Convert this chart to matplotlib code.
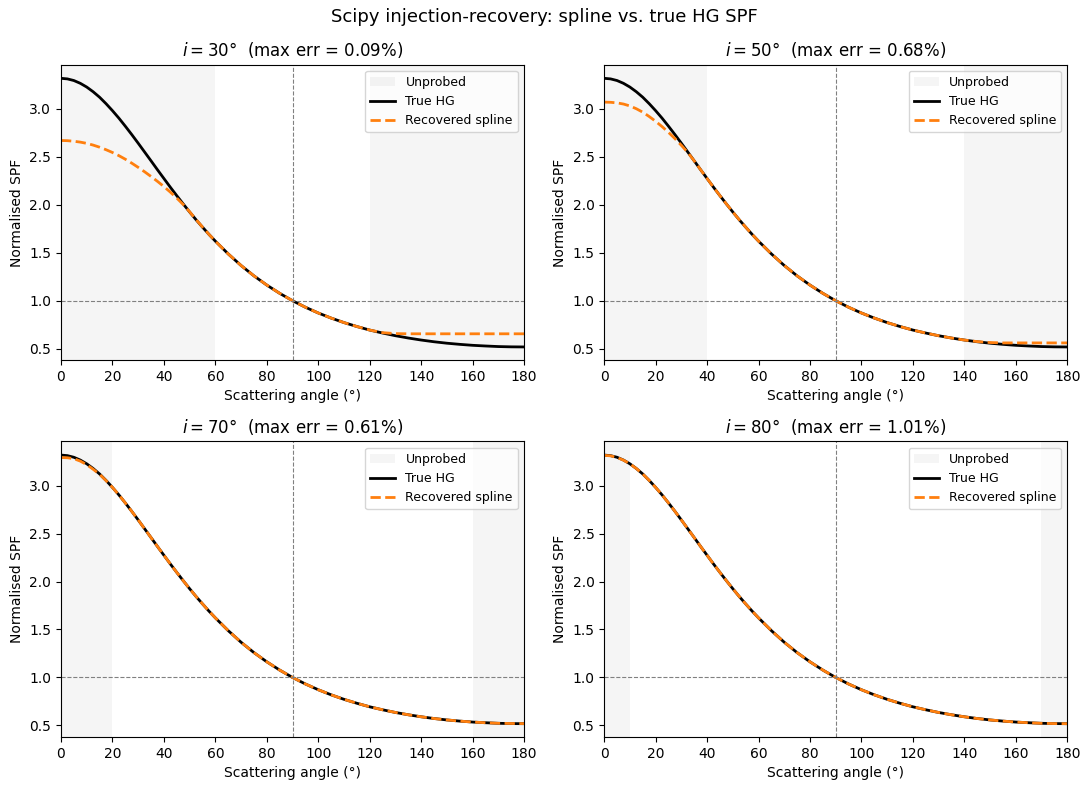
import matplotlib
matplotlib.use("Agg")
import matplotlib.pyplot as plt

angles = [0, 2.5, 5, 7.5, 10, 12.5, 15, 17.5, 20, 22.5, 25, 27.5, 30, 32.5, 35,
          37.5, 40, 42.5, 45, 47.5, 50, 52.5, 55, 57.5, 60,
          65, 70, 75, 80, 85, 90, 95, 100, 105, 110, 115, 120, 125, 130, 135,
          140, 145, 150, 155, 160, 165, 170, 175, 180]

true_hg = [3.318, 3.312, 3.295, 3.266, 3.227, 3.178, 3.121, 3.054, 2.981, 2.903,
           2.819, 2.732, 2.642, 2.550, 2.458, 2.365, 2.274, 2.183, 2.095, 2.009,
           1.925, 1.844, 1.767, 1.692, 1.621,
           1.488, 1.367, 1.259, 1.163, 1.077, 1.000, 0.932, 0.872, 0.819, 0.772,
           0.731, 0.694, 0.663, 0.635, 0.611, 0.590, 0.572, 0.557, 0.545, 0.535,
           0.528, 0.522, 0.519, 0.518]

spline_i30 = [2.670, 2.668, 2.662, 2.653, 2.640, 2.622, 2.600, 2.574, 2.545, 2.512,
              2.475, 2.434, 2.390, 2.344, 2.295, 2.244, 2.190, 2.132, 2.070, 2.003,
              1.927, 1.846, 1.768, 1.692, 1.621,
              1.488, 1.367, 1.259, 1.163, 1.077, 1.000, 0.932, 0.872, 0.819, 0.772,
              0.731, 0.694, 0.667, 0.657, 0.655, 0.655, 0.655, 0.655, 0.655, 0.655,
              0.655, 0.655, 0.655, 0.655]

spline_i50 = [3.070, 3.068, 3.062, 3.050, 3.030, 3.001, 2.965, 2.920, 2.870, 2.815,
              2.755, 2.690, 2.620, 2.545, 2.458, 2.365, 2.274, 2.183, 2.095, 2.009,
              1.925, 1.844, 1.767, 1.692, 1.621,
              1.488, 1.367, 1.259, 1.163, 1.077, 1.000, 0.932, 0.872, 0.819, 0.772,
              0.731, 0.694, 0.663, 0.635, 0.611, 0.590, 0.574, 0.564, 0.560, 0.560,
              0.560, 0.560, 0.560, 0.560]

spline_i70 = [3.292, 3.290, 3.280, 3.255, 3.218, 3.170, 3.118, 3.052, 2.981, 2.903,
              2.819, 2.732, 2.642, 2.550, 2.458, 2.365, 2.274, 2.183, 2.095, 2.009,
              1.925, 1.844, 1.767, 1.692, 1.621,
              1.488, 1.367, 1.259, 1.163, 1.077, 1.000, 0.932, 0.872, 0.819, 0.772,
              0.731, 0.694, 0.663, 0.635, 0.611, 0.590, 0.572, 0.557, 0.545, 0.535,
              0.528, 0.522, 0.520, 0.519]

spline_i80 = [3.315, 3.310, 3.293, 3.265, 3.226, 3.178, 3.121, 3.054, 2.981, 2.903,
              2.819, 2.732, 2.642, 2.550, 2.458, 2.365, 2.274, 2.183, 2.095, 2.009,
              1.925, 1.844, 1.767, 1.692, 1.621,
              1.488, 1.367, 1.259, 1.163, 1.077, 1.000, 0.932, 0.872, 0.819, 0.772,
              0.731, 0.694, 0.663, 0.635, 0.611, 0.590, 0.572, 0.557, 0.545, 0.535,
              0.528, 0.522, 0.519, 0.518]

inclinations = [30, 50, 70, 80]
max_errs = ["0.09", "0.68", "0.61", "1.01"]
splines = [spline_i30, spline_i50, spline_i70, spline_i80]
unprobed_low = [60, 40, 20, 10]
unprobed_high = [120, 140, 160, 170]

fig, axes = plt.subplots(2, 2, figsize=(10.89, 7.89), dpi=100)
fig.subplots_adjust(left=0.056, right=0.980, top=0.918, bottom=0.066,
                    wspace=0.173, hspace=0.275)
for ax, inc, err, spl, lo, hi in zip(axes.flat, inclinations, max_errs, splines,
                                      unprobed_low, unprobed_high):
    ax.axvspan(0, lo, color="gray", alpha=0.08, lw=0, label="Unprobed")
    ax.axvspan(hi, 180, color="gray", alpha=0.08, lw=0)
    ax.plot(angles, true_hg, color="black", lw=2, label="True HG")
    ax.plot(angles, spl, color="#ff7f0e", lw=2, ls="--", label="Recovered spline")
    ax.axhline(1.0, color="gray", lw=0.8, ls="--")
    ax.axvline(90, color="gray", lw=0.8, ls="--")
    ax.set_xlim(0, 180)
    ax.set_ylim(0.38, 3.46)
    ax.set_xticks(range(0, 181, 20))
    ax.set_xlabel("Scattering angle (°)")
    ax.set_ylabel("Normalised SPF")
    ax.set_title(r"$i = %d$°  (max err = %s%%)" % (inc, err), fontsize=12)
    ax.legend(loc="upper right", fontsize=9)

fig.suptitle("Scipy injection-recovery: spline vs. true HG SPF", fontsize=13, y=0.99)
fig.savefig("out.png", dpi=100)
